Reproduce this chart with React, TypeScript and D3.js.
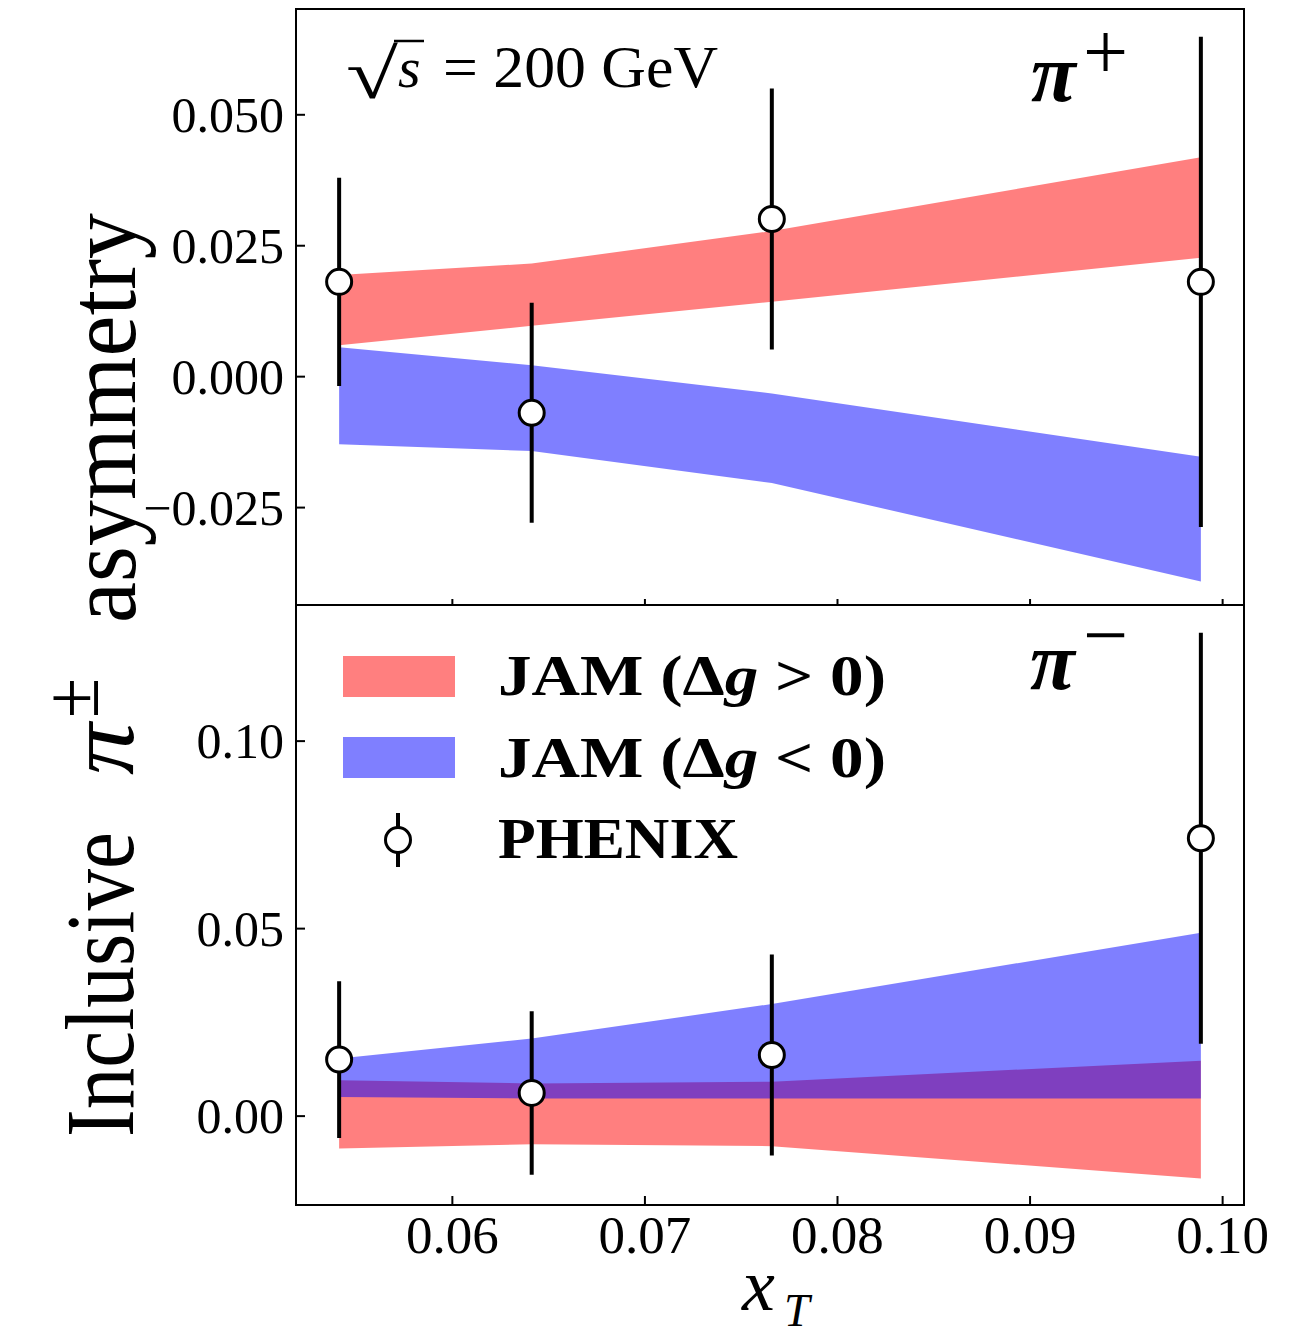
import React from "react";
import * as d3 from "d3";

// ---- data ----
const xT = [0.05412, 0.06412, 0.07659, 0.09887];

const piPlusVal = [0.0181, -0.0069, 0.0301, 0.0181];
const piPlusErr = [0.0199, 0.021, 0.0249, 0.0468];
const piMinusVal = [0.0151, 0.0062, 0.0163, 0.0741];
const piMinusErr = [0.0209, 0.0218, 0.0268, 0.0548];

const piPlusPosLo = [0.006, 0.0097, 0.0143, 0.0227];
const piPlusPosHi = [0.0194, 0.0216, 0.0278, 0.0419];
const piPlusNegLo = [-0.0129, -0.0142, -0.0203, -0.0391];
const piPlusNegHi = [0.0056, 0.0022, -0.0032, -0.0153];

const piMinusPosLo = [-0.0086, -0.0075, -0.008, -0.0166];
const piMinusPosHi = [0.0096, 0.0087, 0.0092, 0.0148];
const piMinusNegLo = [0.0051, 0.0047, 0.0047, 0.0047];
const piMinusNegHi = [0.0154, 0.0207, 0.0299, 0.0489];

const xTicks = [0.06, 0.07, 0.08, 0.09, 0.1];
const xTickLabels = ["0.06", "0.07", "0.08", "0.09", "0.10"];
const topYTicks = [0.05, 0.025, 0.0, -0.025];
const topYTickLabels = ["0.050", "0.025", "0.000", "\u22120.025"];
const botYTicks = [0.1, 0.05, 0.0];
const botYTickLabels = ["0.10", "0.05", "0.00"];

const legendLabels = ["JAM (", "JAM (", "PHENIX"];

const FONT = "'Liberation Serif', 'DejaVu Serif', serif";

export default function App() {
  const L = 296, R = 1244;
  const T1 = 9, B1 = 605, T2 = 605, B2 = 1205;
  const x = d3.scaleLinear().domain([0.05188, 0.10111]).range([L, R]);
  const yTop = d3.scaleLinear().domain([-0.0436, 0.0702]).range([B1, T1]);
  const yBot = d3.scaleLinear().domain([-0.0237, 0.1363]).range([B2, T2]);

  const band = (lo: number[], hi: number[], y: d3.ScaleLinear<number, number>) =>
    d3
      .area<number>()
      .x((_, i) => x(xT[i]))
      .y0((_, i) => y(lo[i]))
      .y1((_, i) => y(hi[i]))(xT.map((_, i) => i)) || "";

  const points = (vals: number[], errs: number[], y: d3.ScaleLinear<number, number>) =>
    xT.map((xv, i) => (
      <g key={i}>
        <line x1={x(xv)} x2={x(xv)} y1={y(vals[i] + errs[i])} y2={y(vals[i] - errs[i])} stroke="#000" strokeWidth={4} />
        <circle cx={x(xv)} cy={y(vals[i])} r={12.5} fill="#fff" stroke="#000" strokeWidth={3} />
      </g>
    ));

  const yTicksEl = (ticks: number[], labels: string[], y: d3.ScaleLinear<number, number>) =>
    ticks.map((t, i) => (
      <g key={i}>
        <line x1={L} x2={L + 9} y1={y(t)} y2={y(t)} stroke="#000" strokeWidth={2} />
        <text x={284} y={y(t) + 17} textAnchor="end" fontFamily={FONT} fontSize={50}>
          {labels[i]}
        </text>
      </g>
    ));

  return (
    <svg width={1307} height={1337} style={{ position: "absolute", left: 0, top: 0, background: "#fff" }}>
      <rect x={0} y={0} width={1307} height={1337} fill="#fff" />
      {/* top panel bands */}
      <path d={band(piPlusPosLo, piPlusPosHi, yTop)} fill="red" fillOpacity={0.5} />
      <path d={band(piPlusNegLo, piPlusNegHi, yTop)} fill="blue" fillOpacity={0.5} />
      {/* bottom panel bands */}
      <path d={band(piMinusPosLo, piMinusPosHi, yBot)} fill="red" fillOpacity={0.5} />
      <path d={band(piMinusNegLo, piMinusNegHi, yBot)} fill="blue" fillOpacity={0.5} />

      {points(piPlusVal, piPlusErr, yTop)}
      {points(piMinusVal, piMinusErr, yBot)}

      {/* frames */}
      <rect x={L} y={T1} width={R - L} height={B1 - T1} fill="none" stroke="#000" strokeWidth={2} />
      <rect x={L} y={T2} width={R - L} height={B2 - T2} fill="none" stroke="#000" strokeWidth={2} />

      {/* y ticks */}
      {yTicksEl(topYTicks, topYTickLabels, yTop)}
      {yTicksEl(botYTicks, botYTickLabels, yBot)}

      {/* x ticks */}
      {xTicks.map((t, i) => (
        <g key={i}>
          <line x1={x(t)} x2={x(t)} y1={B1} y2={B1 - 6} stroke="#000" strokeWidth={2} />
          <line x1={x(t)} x2={x(t)} y1={B2} y2={B2 - 9} stroke="#000" strokeWidth={2} />
          <text x={x(t)} y={1253} textAnchor="middle" fontFamily={FONT} fontSize={53}>
            {xTickLabels[i]}
          </text>
        </g>
      ))}

      {/* x label */}
      <text x={742} y={1310} fontFamily={FONT} fontStyle="italic" fontSize={74}>x</text>
      <text x={784} y={1326} fontFamily={FONT} fontStyle="italic" fontSize={46}>T</text>

      {/* y label */}
      <text transform="translate(133,1137) rotate(-90)" fontFamily={FONT} fontSize={98} textLength={305} lengthAdjust="spacingAndGlyphs">Inclusive</text>
      <text transform="translate(133,775) rotate(-90)" fontFamily={FONT} fontStyle="italic" fontSize={96} textLength={52} lengthAdjust="spacingAndGlyphs">π</text>
      <text transform="translate(98,718) rotate(-90)" fontFamily={FONT} fontSize={78} textLength={40} lengthAdjust="spacingAndGlyphs">±</text>
      <text transform="translate(135,623) rotate(-90)" fontFamily={FONT} fontSize={98} textLength={410} lengthAdjust="spacingAndGlyphs">asymmetry</text>

      {/* sqrt(s) annotation */}
      <text x={346} y={98} fontFamily={FONT} fontSize={70} textLength={52} lengthAdjust="spacingAndGlyphs">√</text>
      <line x1={394} x2={424} y1={41} y2={41} stroke="#000" strokeWidth={2.5} />
      <text x={398} y={87} fontFamily={FONT} fontStyle="italic" fontSize={58}>s</text>
      <text x={443} y={87} fontFamily={FONT} fontSize={60} textLength={275} lengthAdjust="spacingAndGlyphs">= 200 GeV</text>

      {/* pi labels */}
      <text x={1031} y={101} fontFamily={FONT} fontStyle="italic" fontWeight="bold" fontSize={82}>π</text>
      <text x={1083} y={79} fontFamily={FONT} fontSize={80}>+</text>
      <text x={1030} y={689} fontFamily={FONT} fontStyle="italic" fontWeight="bold" fontSize={82}>π</text>
      <text x={1083} y={662} fontFamily={FONT} fontSize={80}>−</text>

      {/* legend */}
      <rect x={343} y={656} width={112} height={41} fill="red" fillOpacity={0.5} />
      <rect x={343} y={737} width={112} height={41} fill="blue" fillOpacity={0.5} />
      <line x1={398} x2={398} y1={813} y2={867} stroke="#000" strokeWidth={4} />
      <circle cx={398} cy={840} r={12.5} fill="#fff" stroke="#000" strokeWidth={3} />
      <text x={498} y={695} fontFamily={FONT} fontWeight="bold" fontSize={56} textLength={388} lengthAdjust="spacingAndGlyphs">
        {legendLabels[0]}Δ<tspan fontStyle="italic">g</tspan> {">"} 0)
      </text>
      <text x={498} y={777} fontFamily={FONT} fontWeight="bold" fontSize={56} textLength={388} lengthAdjust="spacingAndGlyphs">
        {legendLabels[1]}Δ<tspan fontStyle="italic">g</tspan> {"<"} 0)
      </text>
      <text x={498} y={858} fontFamily={FONT} fontWeight="bold" fontSize={56} textLength={240} lengthAdjust="spacingAndGlyphs">
        {legendLabels[2]}
      </text>
    </svg>
  );
}
